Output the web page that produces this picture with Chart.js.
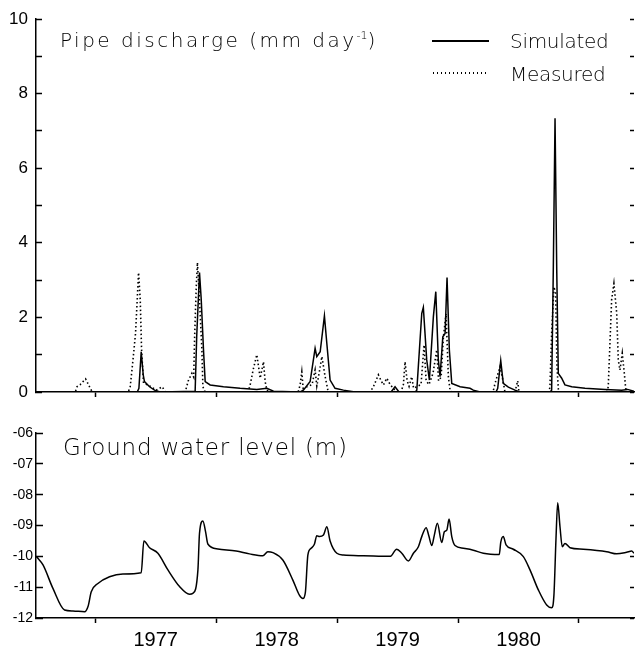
<!DOCTYPE html>
<html>
<head>
<meta charset="utf-8">
<script src="https://cdn.jsdelivr.net/npm/chart.js@4.4.1/dist/chart.umd.min.js"></script>
<style>
  html, body { margin: 0; padding: 0; background: #fff; }
  #wrap { position: relative; width: 635px; height: 649px; overflow: hidden; background: #fff; }
  .box { position: absolute; left: 0; width: 635px; }
  #topBox { top: 0; height: 402px; }
  #bottomBox { top: 410px; height: 239px; }
  .txt { position: absolute; white-space: nowrap; color: #000; font-family: "DejaVu Sans", sans-serif; font-weight: 200; }
  .txt sup { font-size: 11px; vertical-align: 8px; line-height: 0; letter-spacing: 0; }
  .solid { position: absolute; left: 432px; top: 40px; width: 57px; height: 1.5px; background: #000; }
  .dotted { position: absolute; left: 433px; top: 72px; width: 56px; height: 1.5px;
            background: repeating-linear-gradient(to right, #000 0 1.5px, transparent 1.5px 4px); }
</style>
</head>
<body>
<div id="wrap">
  <div class="box" id="topBox"><canvas id="qChart"></canvas></div>
  <div class="box" id="bottomBox"><canvas id="gwChart"></canvas></div>

  <div class="txt" style="left:60px; top:30px; font-size:20px; line-height:20px; letter-spacing:2.5px;">Pipe discharge (mm day<sup>-1</sup>)</div>
  <div class="solid"></div>
  <div class="txt" style="left:510px; top:31px; font-size:20px; line-height:20px; letter-spacing:-0.3px;">Simulated</div>
  <div class="dotted"></div>
  <div class="txt" style="left:510px; top:64px; font-size:20px; line-height:20px; letter-spacing:-0.3px;">Measured</div>
  <div class="txt" style="left:63px; top:436px; font-size:23px; line-height:23px; letter-spacing:0.8px;">Ground water level (m)</div>
</div>

<script>
// x range in decimal years
const xMin = 1976.51;
const xMax = 1981.455;
const yearBounds = [1977, 1978, 1979, 1980, 1981];
const yearLabels = ['1977', '1978', '1979', '1980'];
const qTickLabels = ['0', '2', '4', '6', '8', '10'];
const gwTickLabels = ['-12', '-11', '-10', '-09', '-08', '-07', '-06'];

// pipe discharge, simulated (mm/day)
const simT = [1976.512, 1977.347, 1977.361, 1977.380, 1977.397, 1977.407, 1977.449, 1977.490, 1977.537,
  1977.826, 1977.839, 1977.862, 1977.876, 1977.895, 1977.909, 1977.950, 1978.060, 1978.198, 1978.336, 1978.419, 1978.474,
  1978.694, 1978.721, 1978.777, 1978.818, 1978.832, 1978.860, 1978.895, 1978.915, 1978.942, 1978.983, 1979.052, 1979.149,
  1979.446, 1979.479, 1979.512,
  1979.645, 1979.659, 1979.700, 1979.713, 1979.741, 1979.763, 1979.796, 1979.816, 1979.837, 1979.851, 1979.874, 1979.893,
  1979.909, 1979.928, 1979.948, 1980.017, 1980.099, 1980.126, 1980.182,
  1980.314, 1980.328, 1980.353, 1980.374, 1980.416, 1980.471, 1980.512,
  1980.760, 1980.774, 1980.788, 1980.802, 1980.816, 1980.829, 1980.857, 1980.884, 1980.940, 1981.050, 1981.215,
  1981.353, 1981.402, 1981.455];
const simQ = [0, 0, 0.1, 1.08, 0.45, 0.28, 0.14, 0.05, 0,
  0.02, 1.5, 3.2, 2.5, 1.13, 0.28, 0.19, 0.14, 0.1, 0.07, 0.1, 0.02,
  0, 0.05, 0.28, 1.17, 0.95, 1.08, 2.04, 1.3, 0.32, 0.1, 0.05, 0,
  0, 0.14, 0,
  0, 0.05, 2.11, 2.27, 0.86, 0.32, 2.02, 2.69, 0.86, 0.41, 1.48, 1.57,
  3.07, 1.13, 0.23, 0.14, 0.1, 0.05, 0,
  0, 0.1, 0.84, 0.23, 0.13, 0.05, 0,
  0, 0.05, 3.36, 7.34, 3.3, 0.5, 0.37, 0.19, 0.14, 0.1, 0.07,
  0.05, 0.07, 0.02];

// pipe discharge, measured (mm/day)
const measT = [1976.512, 1976.835, 1976.849, 1976.876, 1976.920, 1976.953, 1976.975,
  1977.273, 1977.289, 1977.312, 1977.333, 1977.347, 1977.358, 1977.372, 1977.383, 1977.399, 1977.463, 1977.504, 1977.554, 1977.579,
  1977.744, 1977.769, 1977.799, 1977.814, 1977.822, 1977.835, 1977.845, 1977.860, 1977.882, 1977.890, 1977.909,
  1978.264, 1978.281, 1978.306, 1978.336, 1978.364, 1978.391, 1978.405, 1978.419, 1978.446,
  1978.678, 1978.694, 1978.708, 1978.719, 1978.793, 1978.818, 1978.832, 1978.851, 1978.874, 1978.901, 1978.915, 1978.926,
  1979.273, 1979.300, 1979.341, 1979.364, 1979.383, 1979.411, 1979.438, 1979.465, 1979.488,
  1979.529, 1979.548, 1979.562, 1979.579, 1979.595, 1979.617, 1979.632,
  1979.694, 1979.719, 1979.736, 1979.760, 1979.793, 1979.824, 1979.839, 1979.860, 1979.879, 1979.901, 1979.920, 1979.934, 1979.950,
  1980.289, 1980.306, 1980.347, 1980.372, 1980.388,
  1980.471, 1980.493, 1980.504,
  1980.752, 1980.760, 1980.774, 1980.793, 1980.807, 1980.818, 1980.831,
  1981.231, 1981.242, 1981.270, 1981.289, 1981.312, 1981.325, 1981.339, 1981.358, 1981.375, 1981.386, 1981.397, 1981.455];
const measQ = [0, 0, 0.14, 0.2, 0.35, 0.14, 0,
  0, 0.14, 0.86, 1.57, 2.47, 3.2, 2.47, 1.13, 0.24, 0.14, 0.05, 0.14, 0,
  0, 0.3, 0.5, 0.4, 1.5, 2.8, 3.47, 2.6, 1.13, 0.14, 0,
  0, 0.19, 0.6, 1.0, 0.37, 0.81, 0.28, 0.05, 0,
  0, 0.19, 0.54, 0.1, 0.2, 0.59, 0.16, 0.5, 0.95, 0.41, 0.19, 0,
  0, 0.14, 0.46, 0.3, 0.19, 0.37, 0.2, 0.1, 0,
  0, 0.2, 0.81, 0.3, 0.15, 0.41, 0.1,
  0.2, 1.26, 0.3, 0.2, 0.5, 1.13, 0.3, 0.4, 1.48, 2.1, 0.41, 0.05, 0,
  0, 0.23, 0.68, 0.3, 0,
  0, 0.3, 0,
  0, 0.14, 1.57, 2.82, 2.65, 0.68, 0,
  0, 0.14, 2.47, 2.91, 2.11, 0.86, 0.59, 1.04, 0.5, 0.1, 0, 0];

// ground water level (m)
const gwT = [1976.512, 1976.568, 1976.650, 1976.746, 1976.816, 1976.912, 1976.940, 1976.967, 1977.022, 1977.118,
  1977.229, 1977.380, 1977.402, 1977.449, 1977.518, 1977.601, 1977.697, 1977.779, 1977.807, 1977.849,
  1977.862, 1977.890, 1977.912, 1977.931, 1978.014, 1978.165, 1978.275, 1978.386, 1978.427, 1978.469,
  1978.551, 1978.634, 1978.688, 1978.717, 1978.738, 1978.758, 1978.785, 1978.812, 1978.832, 1978.854,
  1978.887, 1978.915, 1978.942, 1978.998, 1979.052, 1979.217, 1979.438, 1979.493, 1979.535, 1979.589,
  1979.631, 1979.672, 1979.700, 1979.736, 1979.760, 1979.783, 1979.804, 1979.829, 1979.865, 1979.887,
  1979.907, 1979.926, 1979.948, 1979.975, 1980.044, 1980.126, 1980.209, 1980.341, 1980.353, 1980.374,
  1980.397, 1980.457, 1980.540, 1980.595, 1980.664, 1980.733, 1980.774, 1980.793, 1980.810, 1980.824,
  1980.843, 1980.862, 1980.884, 1980.926, 1981.036, 1981.229, 1981.312, 1981.394, 1981.436, 1981.455];
const gwLevel = [-10.0, -10.28, -11.04, -11.74, -11.77, -11.8, -11.63, -11.15, -10.88, -10.66,
  -10.57, -10.53, -9.5, -9.72, -9.9, -10.44, -10.98, -11.23, -11.2, -10.44,
  -9.25, -8.85, -9.2, -9.6, -9.76, -9.83, -9.92, -9.98, -9.85, -9.88,
  -10.12, -10.77, -11.26, -11.37, -11.15, -9.96, -9.74, -9.61, -9.33, -9.36,
  -9.31, -9.04, -9.5, -9.9, -9.96, -9.98, -10.0, -9.77, -9.9, -10.15,
  -9.9, -9.69, -9.36, -9.07, -9.36, -9.65, -9.31, -8.93, -9.55, -9.2,
  -9.15, -8.79, -9.36, -9.65, -9.74, -9.8, -9.9, -9.94, -9.55, -9.36,
  -9.63, -9.77, -10.01, -10.44, -11.09, -11.58, -11.67, -11.25, -9.42, -8.26,
  -9.04, -9.69, -9.58, -9.72, -9.77, -9.85, -9.92, -9.87, -9.83, -9.9];

const pts = (xs, ys) => xs.map((x, i) => ({ x: x, y: ys[i] }));

// x axis: year boundaries get tick marks, year middles get the labels
function xAxis(showLabels) {
  return {
    type: 'linear',
    min: xMin,
    max: xMax,
    afterBuildTicks: function(scale) {
      const t = [];
      yearBounds.forEach((b, i) => {
        t.push({ value: b });
        if (yearLabels[i]) t.push({ value: b + 0.5 });
      });
      scale.ticks = t;
    },
    afterFit: function(scale) {
      scale.height = showLabels ? 31 : 10;
      scale.paddingLeft = 0;
      scale.paddingRight = 0;
    },
    border: { display: true, color: '#000', width: 1.5 },
    grid: {
      drawOnChartArea: false,
      tickLength: 5,
      tickWidth: 1.5,
      tickColor: ctx => Number.isInteger(ctx.tick.value) ? '#000' : 'rgba(0,0,0,0)'
    },
    ticks: {
      display: showLabels,
      autoSkip: false,
      maxRotation: 0,
      padding: 5,
      color: '#000',
      font: { family: 'Liberation Sans', size: 20 },
      callback: function(v) {
        const i = yearBounds.indexOf(v - 0.5);
        return i >= 0 && yearLabels[i] ? yearLabels[i] : '';
      }
    }
  };
}

// left axis with inward ticks; the label padding must not grow the chart margins
function leftAxis(min, max, step, tickLen, pad, size, labelFn) {
  return {
    min: min,
    max: max,
    afterFit: function(scale) {
      scale.width = 36;
      scale.paddingTop = 0;
      scale.paddingBottom = 0;
    },
    border: { display: true, color: '#000', width: 1.5 },
    grid: { drawOnChartArea: false, tickLength: tickLen, tickWidth: 1.5, tickColor: '#000' },
    ticks: {
      stepSize: step,
      padding: pad,
      color: '#000',
      font: { family: 'Liberation Sans', size: size },
      callback: labelFn
    }
  };
}

function rightAxis(min, max, step) {
  return {
    position: 'right',
    min: min,
    max: max,
    afterFit: function(scale) {
      scale.width = 1;
      scale.paddingTop = 0;
      scale.paddingBottom = 0;
    },
    border: { display: false },
    grid: { drawOnChartArea: false, tickLength: -4, tickWidth: 1.5, tickColor: '#000' },
    ticks: { display: false, stepSize: step }
  };
}

new Chart(document.getElementById('qChart'), {
  type: 'line',
  data: {
    datasets: [
      { label: 'Simulated', data: pts(simT, simQ), borderColor: '#000', borderWidth: 1.5, pointRadius: 0, tension: 0 },
      { label: 'Measured', data: pts(measT, measQ), borderColor: '#000', borderWidth: 1.6, borderDash: [1.5, 2.5], pointRadius: 0, tension: 0 }
    ]
  },
  options: {
    responsive: true,
    maintainAspectRatio: false,
    animation: false,
    layout: { padding: { top: 19, left: 0, right: 0, bottom: 0 } },
    plugins: { legend: { display: false }, tooltip: { enabled: false } },
    scales: {
      x: xAxis(false),
      y: leftAxis(0, 10, 1, -6, 14, 17, v => (v % 2 === 0 ? qTickLabels[v / 2] : '')),
      y2: rightAxis(0, 10, 1)
    }
  }
});

new Chart(document.getElementById('gwChart'), {
  type: 'line',
  data: {
    datasets: [
      { label: 'Ground water level', data: pts(gwT, gwLevel), borderColor: '#000', borderWidth: 1.5,
        pointRadius: 0, cubicInterpolationMode: 'monotone' }
    ]
  },
  options: {
    responsive: true,
    maintainAspectRatio: false,
    animation: false,
    layout: { padding: { top: 23, left: 0, right: 0, bottom: 0 } },
    plugins: { legend: { display: false }, tooltip: { enabled: false } },
    scales: {
      x: xAxis(true),
      y: leftAxis(-12, -6, 0.5, -7, 10, 14, v => (Number.isInteger(v) ? gwTickLabels[v + 12] : '')),
      y2: rightAxis(-12, -6, 1)
    }
  }
});
</script>
</body>
</html>
